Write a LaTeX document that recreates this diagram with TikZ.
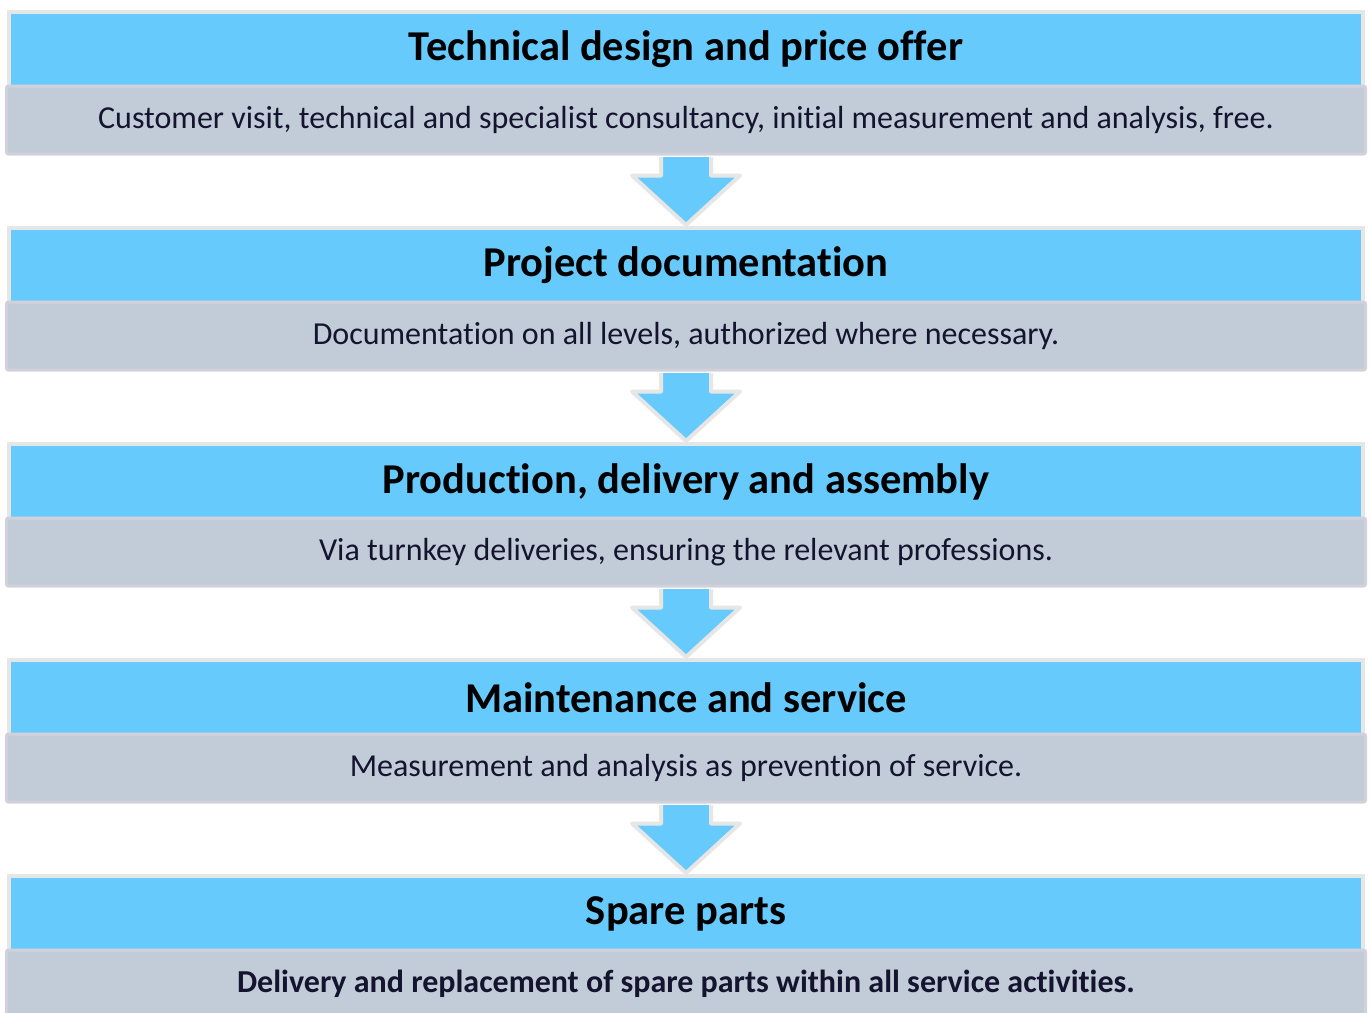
\documentclass[tikz,border=0pt]{standalone}
\usepackage{fontspec}
\setmainfont{Carlito}[Ligatures={NoCommon,NoRare}]
\usetikzlibrary{calc}
\definecolor{hblue}{HTML}{66CAFC}
\definecolor{hedge}{HTML}{E6E6E6}
\definecolor{bgray}{HTML}{C1CCD8}
\definecolor{bedge}{HTML}{D2D1DA}
\definecolor{btext}{HTML}{14142E}
\begin{document}
\begin{tikzpicture}[x=1pt,y=-1pt,
 head/.style={draw=hedge, line width=4pt, fill=hblue, minimum width=1354pt, minimum height=75pt, inner sep=0pt, font=\fontsize{42.5}{45}\selectfont\bfseries, anchor=north},
 body/.style={draw=bedge, line width=3pt, fill=bgray, rounded corners=2pt, minimum width=1359pt, minimum height=68pt, inner sep=0pt, text=btext, font=\fontsize{32}{35}\selectfont, anchor=north},
 flow/.style={fill=hblue, draw=hedge, line width=4pt, line join=round}]
\useasboundingbox (0,0) rectangle (1370,1012);
\clip (0,0) rectangle (1370,1012);
\node[head] (h1) at (686,10) {Technical design and price offer};
\node[body] (b1) at (686,84.5) {Customer visit, technical and specialist consultancy, initial measurement and analysis, free.};
\node[head] (h2) at (686,226) {Project documentation};
\node[body] (b2) at (686,300.5) {Documentation on all levels, authorized where necessary.};
\node[head] (h3) at (686,442) {Production, delivery and assembly};
\node[body] (b3) at (686,516.5) {Via turnkey deliveries, ensuring the relevant professions.};
\node[head] (h4) at (686,658) {Maintenance and service};
\node[body] (b4) at (686,732.5) {Measurement and analysis as prevention of service.};
\node[head] (h5) at (686,874) {Spare parts};
\node[body, font=\fontsize{32}{35}\selectfont\bfseries] (b5) at (686,948.5) {Delivery and replacement of spare parts within all service activities.};
\foreach \a/\b in {b1/h2,b2/h3,b3/h4,b4/h5}{
  \filldraw[flow] ($(\a.south)+(-25,1.5)$) -- ($(\a.south)+(-25,20)$) -- ($(\a.south)+(-54,20)$)
    -- ($(\b.north)+(0,-1)$) -- ($(\a.south)+(54,20)$) -- ($(\a.south)+(25,20)$) -- ($(\a.south)+(25,1.5)$);
}
\end{tikzpicture}
\end{document}
